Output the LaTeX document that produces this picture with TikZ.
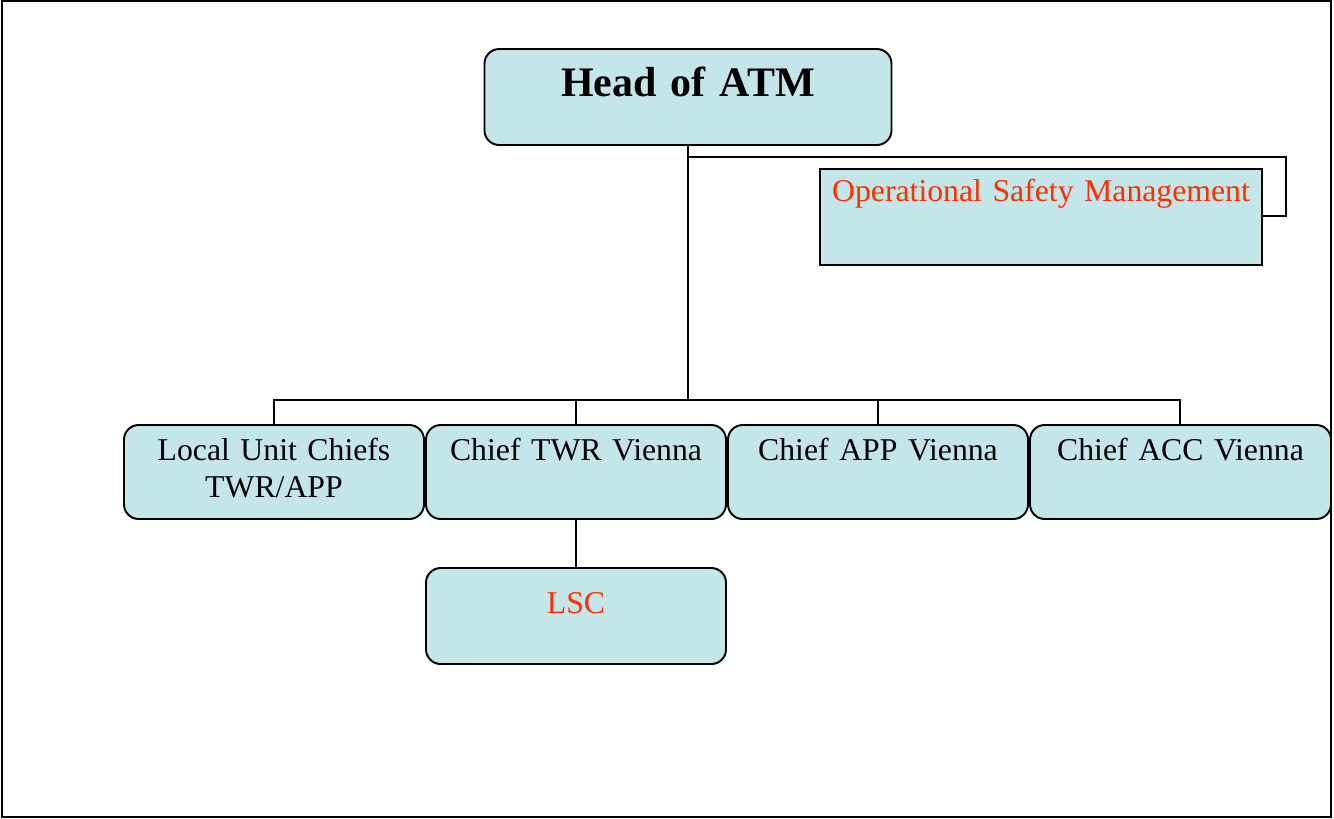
\documentclass[tikz,border=0pt]{standalone}
\usepackage{fontspec}
\setmainfont{Liberation Serif}
\definecolor{boxfill}{RGB}{197,230,232}
\definecolor{redtxt}{RGB}{255,45,0}
\begin{document}
\begin{tikzpicture}[x=0.75pt,y=-0.75pt,
  frame/.style={draw=black,line width=1.5pt},
  conn/.style={draw=black,line width=1.45pt},
  orgbox/.style={draw=black,line width=1.45pt,fill=boxfill,inner sep=0pt,align=center,anchor=base,
    font=\fontsize{23.8}{27.75}\selectfont},
  rbox/.style={orgbox,rounded corners=11pt}]
\useasboundingbox (0,0) rectangle (1334,818);
\draw[frame] (2,1) rectangle (1331,817);
% boxes (text width, height above baseline, depth below baseline)
\node[rbox,text width=407*0.75pt,text height=47*0.75pt,text depth=49*0.75pt,
  font=\fontsize{31.5}{36}\selectfont\bfseries] (head) at (688,96) {Head of ATM};
\node[orgbox,text width=442*0.75pt,text height=32*0.75pt,text depth=64*0.75pt,text=redtxt] (osm) at (1041,201) {Operational Safety Management};
\node[rbox,text width=300*0.75pt,text height=35*0.75pt,text depth=59*0.75pt] (local) at (274,460) {Local Unit Chiefs\\TWR/APP};
\node[rbox,text width=300*0.75pt,text height=35*0.75pt,text depth=59*0.75pt] (twr) at (576,460) {Chief TWR Vienna};
\node[rbox,text width=300*0.75pt,text height=35*0.75pt,text depth=59*0.75pt] (app) at (878,460) {Chief APP Vienna};
\node[rbox,text width=301*0.75pt,text height=35*0.75pt,text depth=59*0.75pt] (acc) at (1180.5,460) {Chief ACC Vienna};
\node[rbox,text width=300*0.75pt,text height=45*0.75pt,text depth=51*0.75pt,text=redtxt] (lsc) at (576,613) {LSC};
% connectors
\coordinate (bus) at (688,400);
\coordinate (br) at (688,157);
\draw[conn] (head.south) -- (bus);
\draw[conn] (br) -- (1286,157) |- (osm.east |- 0,216);
\draw[conn] (local.north) |- (1180,400) -- (1180,425);
\draw[conn] (twr.north) -- (twr.north |- bus);
\draw[conn] (app.north) -- (app.north |- bus);
\draw[conn] (twr.south) -- (lsc.north);
\end{tikzpicture}
\end{document}
